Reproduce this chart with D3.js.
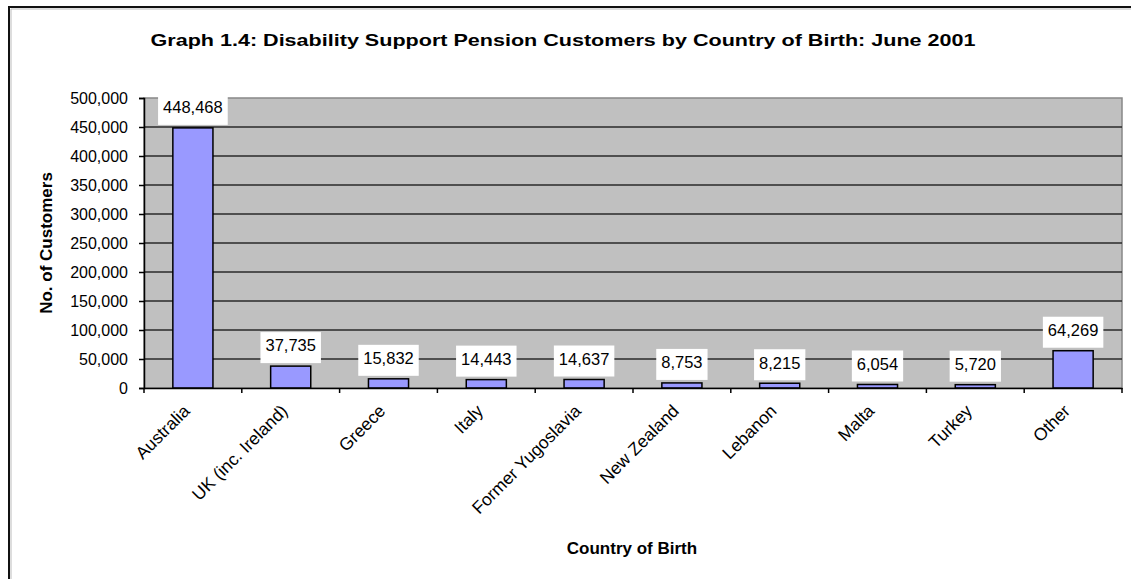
<!DOCTYPE html>
<html><head><meta charset="utf-8">
<script src="https://cdn.jsdelivr.net/npm/d3@7/dist/d3.min.js"></script>
<style>body{margin:0;background:#fff;} text{font-family:"Liberation Sans",Arial,sans-serif;}</style>
</head><body>
<svg id="c" width="1131" height="579"></svg>
<script>
const categories = ["Australia","UK (inc. Ireland)","Greece","Italy","Former Yugoslavia","New Zealand","Lebanon","Malta","Turkey","Other"];
const values = [448468,37735,15832,14443,14637,8753,8215,6054,5720,64269];
const valueLabels = ["448,468","37,735","15,832","14,443","14,637","8,753","8,215","6,054","5,720","64,269"];
const yTicks = [0,50000,100000,150000,200000,250000,300000,350000,400000,450000,500000];

const svg = d3.select("#c");
const W = 1131, H = 579;
svg.append("rect").attr("width",W).attr("height",H).attr("fill","#fff");
// outer frame
svg.append("rect").attr("x",9).attr("y",7).attr("width",1300).attr("height",800)
  .attr("fill","none").attr("stroke","#111").attr("stroke-width",2);
svg.append("path").attr("d","M11,579V9H1131").attr("fill","none").attr("stroke","#bbb").attr("stroke-width",1);

const m = {left:144, right:1122, top:98, bottom:388};
const x = d3.scaleBand().domain(categories).range([m.left,m.right]).paddingInner(0.59).paddingOuter(0.295);
const y = d3.scaleLinear().domain([0,500000]).range([m.bottom,m.top]);

svg.append("rect").attr("x",m.left).attr("y",m.top).attr("width",m.right-m.left).attr("height",m.bottom-m.top)
  .attr("fill","#c0c0c0").attr("stroke","#888").attr("stroke-width",1.5);

// gridlines
svg.append("g").selectAll("line").data(yTicks.filter(d=>d>0&&d<500000)).join("line")
  .attr("x1",m.left).attr("x2",m.right).attr("y1",d=>y(d)).attr("y2",d=>y(d))
  .attr("stroke","#2a2a2a").attr("stroke-width",1.6);

// bars
svg.append("g").selectAll("rect").data(values).join("rect")
  .attr("x",(d,i)=>x(categories[i])).attr("width",x.bandwidth())
  .attr("y",d=>y(d)).attr("height",d=>m.bottom-y(d))
  .attr("fill","#9999ff").attr("stroke","#000").attr("stroke-width",1.5);

// y axis
const yAxis = d3.axisLeft(y).tickValues(yTicks).tickSize(5).tickPadding(11)
  .tickFormat(d=>d3.format(",")(d));
const gy = svg.append("g").attr("transform",`translate(${m.left},0)`).call(yAxis);
gy.select(".domain").attr("stroke","#000").attr("stroke-width",1.5);
gy.selectAll(".tick line").attr("stroke","#000").attr("stroke-width",1.5);
gy.selectAll(".tick text").attr("font-size",16).attr("fill","#000").attr("font-family","Liberation Sans, Arial, sans-serif");

// x axis
const step = x.step();
const xAxis = d3.axisBottom(x).tickSize(0).tickFormat("");
const gx = svg.append("g").attr("transform",`translate(0,${m.bottom})`).call(xAxis);
gx.select(".domain").attr("stroke","#000").attr("stroke-width",1.5);
gx.selectAll(".xt").data(d3.range(categories.length+1)).join("line")
  .attr("x1",i=>m.left+i*step).attr("x2",i=>m.left+i*step).attr("y1",0).attr("y2",5)
  .attr("stroke","#000").attr("stroke-width",1.5);

// category labels
svg.append("g").selectAll("text").data(categories).join("text")
  .attr("transform",d=>`translate(${x(d)+x.bandwidth()/2-2},${m.bottom+24}) rotate(-45)`)
  .attr("text-anchor","end").attr("font-size",17.5).attr("fill","#000").text(d=>d);

// value labels
const lg = svg.append("g");
values.forEach((v,i)=>{
  const cx = x(categories[i])+x.bandwidth()/2;
  const top = y(v);
  const g = lg.append("g");
  const t = g.append("text").attr("x",cx).attr("y",top-19).attr("text-anchor","middle")
    .attr("dominant-baseline","middle").attr("font-size",16.5).attr("fill","#000").text(valueLabels[i]);
  const bb = t.node().getBBox();
  g.insert("rect","text").attr("x",cx-bb.width/2-5).attr("y",top-34).attr("width",bb.width+10).attr("height",31)
    .attr("fill","#fff");
});

// titles
svg.append("text").attr("x",563).attr("y",46).attr("text-anchor","middle")
  .attr("font-size",17).attr("font-weight","bold").attr("textLength",825).attr("lengthAdjust","spacingAndGlyphs")
  .text("Graph 1.4: Disability Support Pension Customers by Country of Birth: June 2001");
svg.append("text").attr("transform","translate(52,243) rotate(-90)").attr("text-anchor","middle")
  .attr("font-size",17).attr("font-weight","bold").text("No. of Customers");
svg.append("text").attr("x",632).attr("y",554).attr("text-anchor","middle")
  .attr("font-size",17).attr("font-weight","bold").text("Country of Birth");
</script>
</body></html>
